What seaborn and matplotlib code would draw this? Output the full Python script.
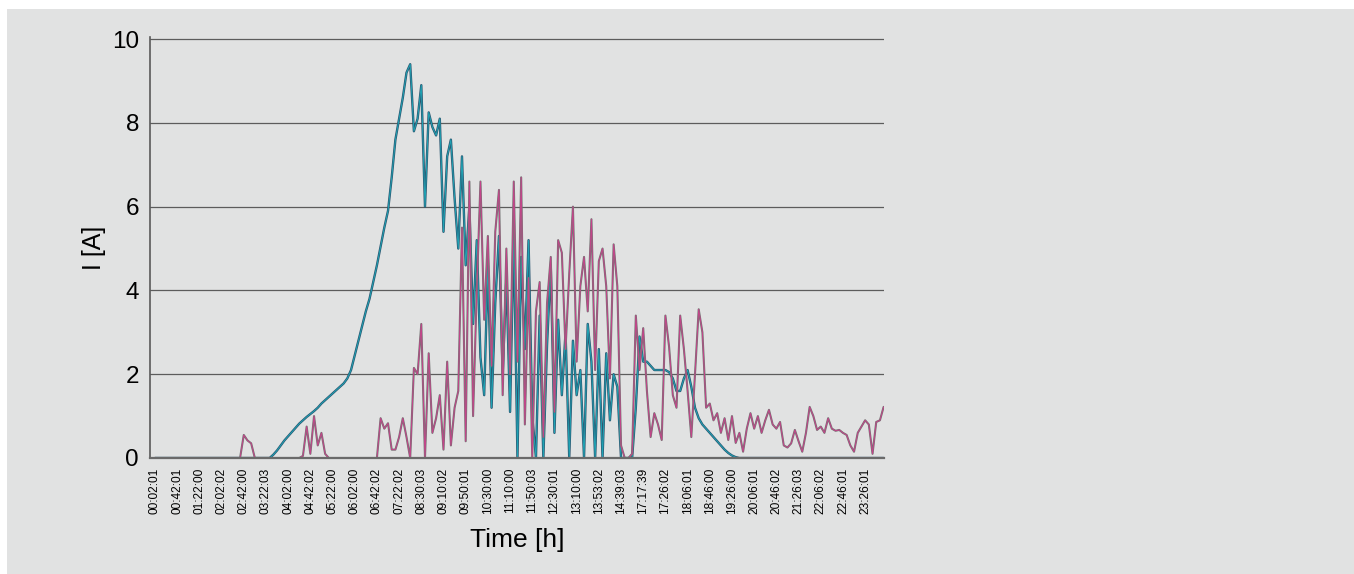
import numpy as np
import pandas as pd
import matplotlib.pyplot as plt
import seaborn as sns
from matplotlib.patches import Rectangle
from matplotlib.ticker import MultipleLocator

# Tick labels on the time axis (one label every 6 samples)
time_labels = ["00:02:01", "00:42:01", "01:22:00", "02:02:02", "02:42:00", "03:22:03",
               "04:02:00", "04:42:02", "05:22:00", "06:02:00", "06:42:02", "07:22:02",
               "08:30:03", "09:10:02", "09:50:01", "10:30:00", "11:10:00", "11:50:03",
               "12:30:01", "13:10:00", "13:53:02", "14:39:03", "17:17:39", "17:26:02",
               "18:06:01", "18:46:00", "19:26:00", "20:06:01", "20:46:02", "21:26:03",
               "22:06:02", "22:46:01", "23:26:01"]

# Current of the first circuit (teal) in A
current_a = [0.0] * 32 + [
    0.08, 0.18, 0.3, 0.42, 0.52, 0.62, 0.72, 0.82, 0.9, 0.98,
    1.05, 1.12, 1.2, 1.3, 1.38, 1.46, 1.54, 1.62, 1.7, 1.78,
    1.9, 2.1, 2.45, 2.8, 3.15, 3.5, 3.8, 4.2, 4.6, 5.05,
    5.5, 5.9, 6.7, 7.6, 8.1, 8.6, 9.2, 9.4, 7.8, 8.1,
    8.9, 6.0, 8.25, 7.9, 7.7, 8.1, 5.4, 7.2, 7.6, 6.2,
    5.0, 7.2, 4.6, 6.0, 3.2, 5.2, 2.4, 1.5, 4.6, 1.2,
    3.7, 5.3, 2.0, 4.3, 1.1, 5.4, 0.0, 4.8, 2.6, 5.2,
    1.0, 0.0, 3.4, 0.0, 2.7, 4.6, 0.6, 3.3, 1.5, 3.0,
    0.0, 2.8, 1.5, 2.1, 0.0, 3.2, 2.3, 0.0, 2.6, 0.0,
    2.5, 0.9, 2.0, 1.7, 0.0, 0.0, 0.0, 0.0, 1.2, 2.9,
    2.3, 2.3, 2.2, 2.1, 2.1, 2.1, 2.1, 2.05, 1.9, 1.6,
    1.6, 1.9, 2.1, 1.7, 1.2, 0.95, 0.8, 0.7, 0.6, 0.5,
    0.4, 0.3, 0.2, 0.12, 0.06, 0.02] + [0.0] * 40

# Current of the second circuit (magenta) in A
current_b = [0.0] * 24 + [0.55, 0.42, 0.35] + [0.0] * 13 + [
    0.05, 0.75, 0.1, 1.0, 0.3, 0.6, 0.1] + [0.0] * 13 + [
    0.0, 0.95, 0.7, 0.83, 0.2, 0.2, 0.5, 0.95, 0.5, 0.0,
    2.15, 2.0, 3.2, 0.0, 2.5, 0.6, 0.95, 1.5, 0.2, 2.3,
    0.3, 1.2, 1.6, 5.5, 0.4, 6.6, 1.0, 4.0, 6.6, 3.3,
    5.3, 2.2, 5.4, 6.4, 1.5, 5.0, 2.0, 6.6, 2.3, 6.7,
    0.8, 4.3, 0.0, 3.5, 4.2, 0.5, 3.7, 4.8, 1.1, 5.2,
    4.9, 2.6, 4.4, 6.0, 2.3, 4.1, 4.8, 3.5, 5.7, 2.1,
    4.7, 5.0, 4.1, 1.9, 5.1, 4.1, 0.3, 0.0, 0.0, 0.1,
    3.4, 2.1, 3.1, 1.6, 0.5, 1.07, 0.8, 0.43, 3.4, 2.65,
    1.5, 1.2, 3.4, 2.6, 1.6, 0.5, 2.0, 3.55, 3.0, 1.2,
    1.3, 0.9, 1.07, 0.6, 0.95, 0.43, 1.0, 0.36, 0.6, 0.15,
    0.7, 1.07, 0.7, 1.0, 0.6, 0.9, 1.15, 0.8, 0.7, 0.86,
    0.3, 0.25, 0.35, 0.67, 0.4, 0.15, 0.6, 1.22, 1.0, 0.67,
    0.75, 0.6, 0.95, 0.7, 0.65, 0.67, 0.6, 0.55, 0.3, 0.15,
    0.6, 0.75, 0.9, 0.8, 0.1, 0.86, 0.9, 1.22]

bg = "#e1e2e2"

sns.set_style("white")
plt.rcParams["font.family"] = ["Liberation Sans", "DejaVu Sans"]
plt.rcParams["text.color"] = "black"
plt.rcParams["axes.labelcolor"] = "black"

df = pd.DataFrame({"sample": np.arange(len(current_a)),
                   "A": current_a,
                   "B": current_b})

fig = plt.figure(figsize=(13.54, 5.74), dpi=100)
fig.patch.set_facecolor("white")
fig.patches.append(Rectangle((7 / 1354, 0), 1, 1 - 9 / 574, transform=fig.transFigure,
                             facecolor=bg, edgecolor="none", zorder=-10))

ax = fig.add_axes([150 / 1354, 1 - 458 / 574, 734 / 1354, 421 / 574])
ax.set_facecolor(bg)

# scanned look: darker outline with a coloured core
sns.lineplot(data=df, x="sample", y="A", ax=ax, color="#2b5670", lw=1.7)
sns.lineplot(data=df, x="sample", y="A", ax=ax, color="#1fa3b4", lw=0.7)
sns.lineplot(data=df, x="sample", y="B", ax=ax, color="#747474", lw=1.5)
sns.lineplot(data=df, x="sample", y="B", ax=ax, color="#c4448a", lw=0.7)

ax.set_xlim(-1.35, 197.1)
ax.set_ylim(0, 10.05)
ax.set_yticks([0, 2, 4, 6, 8, 10])
ax.yaxis.grid(True, color="#5c5c5c", lw=0.9)
ax.xaxis.grid(False)
ax.set_axisbelow(True)

ax.set_xticks(range(0, 193, 6))
ax.set_xticklabels(time_labels, rotation=90, fontsize=8.6)
ax.xaxis.set_minor_locator(MultipleLocator(0.75))
ax.tick_params(axis="x", which="major", length=4, width=0.8, color="#555555",
               labelcolor="black", pad=3)
ax.tick_params(axis="x", which="minor", length=3, width=0.6, color="#777777")
ax.tick_params(axis="y", length=3, width=1, color="#555555", labelcolor="black",
               labelsize=17.5, pad=5)

for side in ["top", "right"]:
    ax.spines[side].set_visible(False)
ax.spines["left"].set_color("#5a5a5a")
ax.spines["left"].set_linewidth(1.2)
ax.spines["bottom"].set_color("#6a6a6a")
ax.spines["bottom"].set_linewidth(1.6)

ax.set_xlabel("Time [h]", fontsize=19, labelpad=10)
ax.set_ylabel("I [A]", fontsize=18, labelpad=4)

fig.savefig("out.png", dpi=100, facecolor=fig.get_facecolor())
